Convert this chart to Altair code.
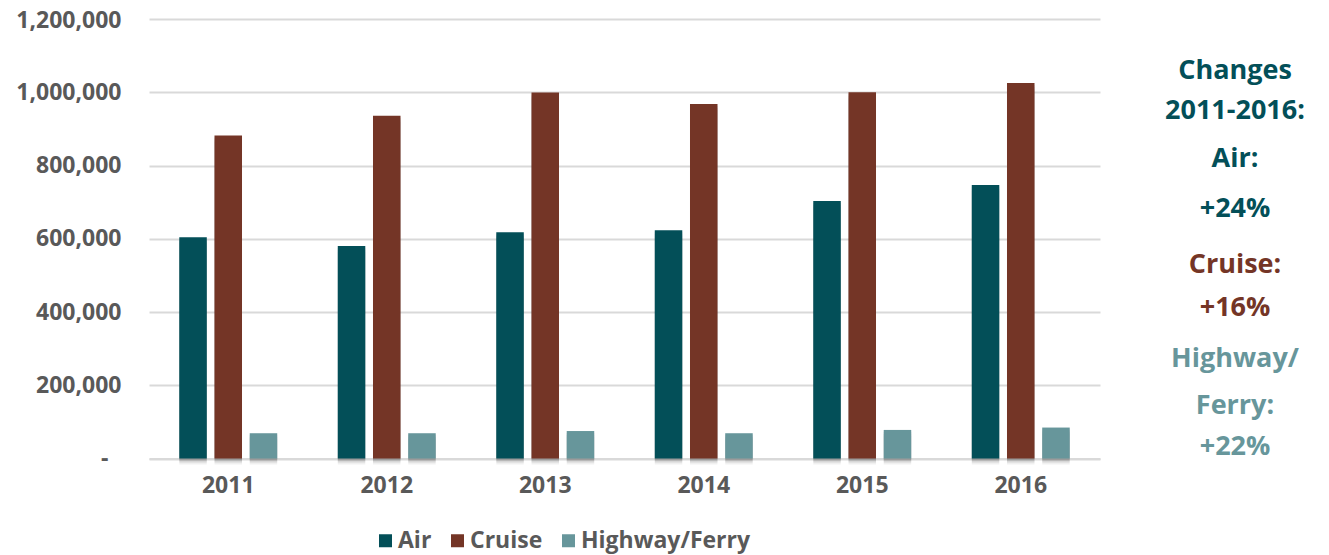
import altair as alt
import pandas as pd

years = ["2011", "2012", "2013", "2014", "2015", "2016"]
modes = ["Air", "Cruise", "Highway/Ferry"]
air = [604000, 580000, 618000, 623000, 703000, 747000]
cruise = [882000, 936000, 999000, 968000, 1000000, 1025000]
highway = [69000, 69000, 75000, 69000, 78000, 84500]
mode_colors = ["#034f58", "#743526", "#67969b"]

note_lines = ["Changes", "2011-2016:", "Air:", "+24%", "Cruise:", "+16%", "Highway/", "Ferry:", "+22%"]
note_colors = ["#034f58"] * 4 + ["#743526"] * 2 + ["#67969b"] * 3

rows = []
for i, yr in enumerate(years):
    rows.append({"Year": yr, "Mode": "Air", "Value": air[i]})
    rows.append({"Year": yr, "Mode": "Cruise", "Value": cruise[i]})
    rows.append({"Year": yr, "Mode": "Highway/Ferry", "Value": highway[i]})
df = pd.DataFrame(rows)

FONT = "Open Sans"
GRAY = "#595959"

x = alt.X("Year:N", sort=years,
          scale=alt.Scale(paddingInner=0.382, paddingOuter=0.191),
          axis=alt.Axis(title=None, labelAngle=0, labelFont=FONT, labelFontSize=23,
                        labelFontWeight="bold", labelColor=GRAY, ticks=False,
                        domainColor="#D9D9D9", domainWidth=2, labelPadding=16, grid=False))
xo = alt.XOffset("Mode:N", sort=modes, scale=alt.Scale(paddingInner=0.219, paddingOuter=0))
y = alt.Y("Value:Q", scale=alt.Scale(domain=[0, 1200000], nice=False),
          axis=alt.Axis(title=None, values=[0, 200000, 400000, 600000, 800000, 1000000, 1200000],
                        labelExpr="datum.value == 0 ? '-' : format(datum.value, ',')",
                        ticks=False, domain=False, gridColor="#D9D9D9", gridWidth=2,
                        labelPadding={"condition": {"test": "datum.value == 0", "value": 41},
                                      "value": 28},
                        labelOffset={"condition": {"test": "datum.value == 1200000", "value": 1},
                                     "value": 0},
                        labelFont=FONT, labelFontSize=23,
                        labelFontWeight="bold", labelColor=GRAY))

base = alt.Chart(df)

shadows = []
for off, op in [(6, 0.06), (4, 0.10), (2, 0.15)]:
    shadows.append(base.mark_bar(color="#000000", opacity=op, xOffset=off, yOffset=off,
                                 y2Offset=1).encode(x=x, xOffset=xo, y=y))

bars = base.mark_bar().encode(
    x=x, xOffset=xo, y=y,
    color=alt.Color("Mode:N", sort=modes,
                    scale=alt.Scale(domain=modes, range=mode_colors),
                    legend=alt.Legend(title=None, orient="none", legendX=225, legendY=510,
                                      direction="horizontal", symbolType="square",
                                      symbolSize=169, symbolStrokeWidth=0, labelFont=FONT,
                                      labelFontSize=23, labelFontWeight="bold",
                                      labelColor=GRAY, labelOffset=1, columnPadding=14,
                                      labelLimit=0, padding=0)))

note_y = [52, 92, 140, 190, 246, 289, 340, 387, 428]
notes = []
for txt, col, yy in zip(note_lines, note_colors, note_y):
    notes.append(alt.Chart(pd.DataFrame({"t": [txt]})).mark_text(
        font=FONT, fontSize=27, fontWeight="bold", color=col, align="center",
        baseline="middle").encode(text="t:N", x=alt.value(1086), y=alt.value(yy)))

chart = alt.layer(*shadows, bars, *notes).properties(
    width=951, height=439.5,
    autosize=alt.AutoSizeParams(type="none"),
    padding={"left": 141, "top": 11, "right": 221, "bottom": 100},
).configure_view(stroke=None)

chart.save("out.html", embed_options={"renderer": "svg", "actions": False})
